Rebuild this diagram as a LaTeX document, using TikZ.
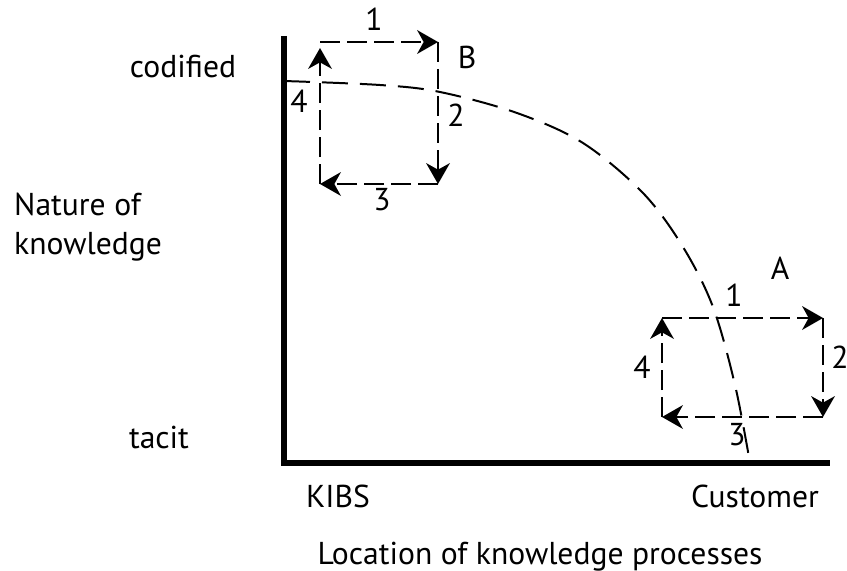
\documentclass[tikz,border=0pt]{standalone}
\usepackage{fontspec}
\setmainfont{PT Sans}
\usetikzlibrary{positioning, arrows.meta, calc}

\begin{document}
\begin{tikzpicture}[
    x=0.3mm, y=-0.3mm,
    font=\fontsize{27}{33}\selectfont,
    % Styles definition
    axisline/.style={line width=4.3pt},
    boundary/.style={dash pattern=on 7.8mm off 3.6mm, line width=1.7pt},
    looptip/.tip={Stealth[length=6.3mm, width=7.2mm, inset=2mm, line width=0pt]},
    looparrow/.style={-looptip, dash pattern=on 6mm off 2.1mm, line width=2pt},
    axislabel/.style={anchor=base, inner sep=0pt},
    steplabel/.style={inner sep=0pt}
]
\useasboundingbox (0,0) rectangle (847,571);

% 1. Axes
\coordinate (top) at (284,36);
\coordinate (origin) at (284,463);
\coordinate (right) at (830,463);
\draw[axisline] (top) -- (origin) -- (right);

% 2. Axis labels
\node[axislabel] (codified) at (183,77) {codified};
\node[axislabel, anchor=base west, align=left] (nature) at (14,254) {Nature of\\knowledge};
\node[axislabel] (tacit) at (159,448) {tacit};
\node[axislabel] (kibs) at (338,507) {KIBS};
\node[axislabel] (customer) at (755,507) {Customer};
\node[axislabel] (location) at (540,564) {Location of knowledge processes};

% 3. Boundary curve
\coordinate (cod) at (284,81);
\coordinate (cust) at (750,463);
\draw[boundary] plot[smooth, tension=0.55] coordinates {(cod) (380,85) (440,92) (517,113) (583,143) (643,193) (683,247) (713,307) (735,385) (cust)};

% 4. Cycle B
\coordinate (B1) at (320,42);
\coordinate (B2) at (438,42);
\coordinate (B3) at (438,184);
\coordinate (B4) at (320,184);
\draw[looparrow] (B1) -- (B2);
\draw[looparrow] (B2) -- (B3);
\draw[looparrow] (B3) -- (B4);
\draw[looparrow, shorten >=1.8mm] (B4) -- (B1);

\node[steplabel] (b) at (467,57) {B};
\node[steplabel] (b1) at (374,19) {1};
\node[steplabel] (b2) at (456,115) {2};
\node[steplabel] (b3) at (382,200) {3};
\node[steplabel] (b4) at (299,101) {4};

% 5. Cycle A
\coordinate (A1) at (662,318);
\coordinate (A2) at (823,318);
\coordinate (A3) at (823,417);
\coordinate (A4) at (662,417);
\draw[looparrow] (A1) -- (A2);
\draw[looparrow] (A2) -- (A3);
\draw[looparrow] (A3) -- (A4);
\draw[looparrow] (A4) -- (A1);

\node[steplabel] (a) at (780,268) {A};
\node[steplabel] (a1) at (734,295) {1};
\node[steplabel] (a2) at (840,357) {2};
\node[steplabel] (a3) at (737,435) {3};
\node[steplabel] (a4) at (642,367) {4};

\end{tikzpicture}
\end{document}
